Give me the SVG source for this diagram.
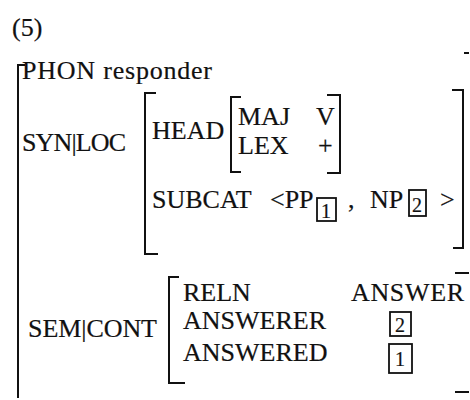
<svg xmlns="http://www.w3.org/2000/svg" width="470" height="400" viewBox="0 0 470 400">
<style>
text{font-family:"Liberation Serif","Times New Roman",serif;font-size:26px;fill:#111;stroke:#111;stroke-width:0.2}
.br{fill:none;stroke:#111;stroke-width:2}
.bx{fill:none;stroke:#111;stroke-width:1.8}
.sm{font-size:20px}
</style>
<rect width="470" height="400" fill="#fff"/>
<text x="12" y="36">(5)</text>
<g id="avm-outer">
<path class="br" d="M25,65 H18 V398"/>
<path class="br" d="M464,53 H469"/>
<text x="22" y="79" textLength="190" lengthAdjust="spacing">PHON responder</text>
<text x="22" y="151" textLength="104" lengthAdjust="spacing">SYN|LOC</text>
<text x="28" y="337" textLength="129" lengthAdjust="spacing">SEM|CONT</text>
</g>
<g id="synloc">
<path class="br" d="M156,93 H145 V254 H158"/>
<path class="br" d="M452,90 H463 V248 H453"/>
<text x="152" y="139">HEAD</text>
<text x="152" y="208">SUBCAT</text>
<text x="270" y="208">&lt;PP</text>
<rect class="bx" x="317" y="198" width="19" height="23"/>
<text class="sm" x="321" y="218">1</text>
<text x="348" y="208">,</text>
<text x="370" y="208">NP</text>
<rect class="bx" x="409" y="190" width="17" height="26"/>
<text class="sm" x="412" y="212">2</text>
<text x="440" y="208">&gt;</text>
</g>
<g id="head">
<path class="br" d="M241,97 H231 V172 H241"/>
<path class="br" d="M327,95 H340 V173 H327"/>
<text x="238" y="125">MAJ</text>
<text x="316" y="125">V</text>
<text x="238" y="154">LEX</text>
<text x="318" y="154">+</text>
</g>
<g id="semcont">
<path class="br" d="M179,277 H169 V383 H185"/>
<path class="br" d="M455,273 H469"/>
<path class="br" d="M455,392 H469"/>
<text x="183" y="301">RELN</text>
<text x="351" y="301" textLength="113" lengthAdjust="spacing">ANSWER</text>
<text x="183" y="329">ANSWERER</text>
<text x="183" y="361">ANSWERED</text>
<rect class="bx" x="390" y="312" width="21" height="24"/>
<text class="sm" x="395" y="332">2</text>
<rect class="bx" x="389" y="344" width="23" height="29"/>
<text class="sm" x="395" y="366">1</text>
</g>
<g id="connectors"></g>
</svg>
